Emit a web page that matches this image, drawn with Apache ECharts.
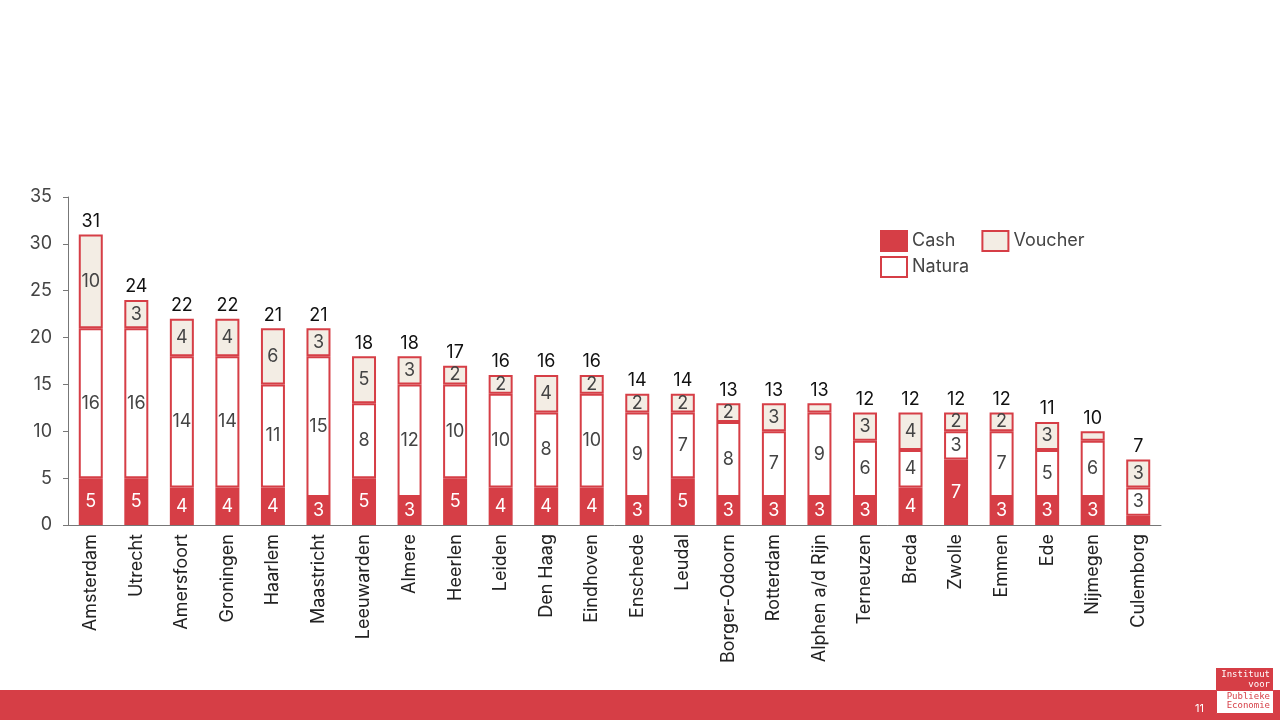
<!DOCTYPE html>
<html>
<head>
<meta charset="utf-8">
<script src="https://cdn.jsdelivr.net/npm/echarts@6/dist/echarts.min.js"></script>
<style>
  html, body { margin: 0; padding: 0; background: #fff; }
  #chart { width: 1280px; height: 720px; }
</style>
</head>
<body>
<div id="chart"></div>
<script>
// gemeenten
var cities = ['Amsterdam', 'Utrecht', 'Amersfoort', 'Groningen', 'Haarlem', 'Maastricht', 'Leeuwarden',
    'Almere', 'Heerlen', 'Leiden', 'Den Haag', 'Eindhoven', 'Enschede', 'Leudal', 'Borger-Odoorn',
    'Rotterdam', 'Alphen a/d Rijn', 'Terneuzen', 'Breda', 'Zwolle', 'Emmen', 'Ede', 'Nijmegen', 'Culemborg'];
var cash    = [5, 5, 4, 4, 4, 3, 5, 3, 5, 4, 4, 4, 3, 5, 3, 3, 3, 3, 4, 7, 3, 3, 3, 1];
var natura  = [16, 16, 14, 14, 11, 15, 8, 12, 10, 10, 8, 10, 9, 7, 8, 7, 9, 6, 4, 3, 7, 5, 6, 3];
var voucher = [10, 3, 4, 4, 6, 3, 5, 3, 2, 2, 4, 2, 2, 2, 2, 3, 1, 3, 4, 2, 2, 3, 1, 3];
var totals  = [31, 24, 22, 22, 21, 21, 18, 18, 17, 16, 16, 16, 14, 14, 13, 13, 13, 12, 12, 12, 12, 11, 10, 7];

var red = '#d63e46';
var font = 'Inter, "Noto Sans", sans-serif';
var mono = '"DejaVu Sans Mono", monospace';

function segLabel(color) {
    return {
        show: true,
        color: color,
        fontSize: 18,
        fontFamily: font,
        formatter: function (p) { return p.value >= 1.5 ? p.value : ''; }
    };
}

function logoText(txt, y, color) {
    return { type: 'text', x: 1270, y: y, style: { text: txt, fill: color, fontSize: 9, fontFamily: mono, align: 'right', verticalAlign: 'middle' } };
}

var chart = echarts.init(document.getElementById('chart'));

var legendText = { color: '#444', fontSize: 18, fontFamily: font };

var option = {
    animation: false,
    grid: { left: 68, right: 119, top: 197, bottom: 195 },
    legend: [{
        left: 880, top: 230, padding: 0, icon: 'rect', itemWidth: 26, itemHeight: 20, itemGap: 26,
        textStyle: legendText,
        data: ['Cash', 'Voucher']
    }, {
        left: 880, top: 256, padding: 0, icon: 'rect', itemWidth: 26, itemHeight: 20,
        textStyle: legendText,
        data: ['Natura']
    }],
    xAxis: {
        type: 'category',
        data: cities,
        axisLine: { lineStyle: { color: '#777', width: 1 } },
        axisTick: { show: false },
        axisLabel: { rotate: 90, color: '#222', fontSize: 18, fontFamily: font, interval: 0, margin: 9 }
    },
    yAxis: {
        type: 'value',
        min: 0, max: 35, interval: 5,
        splitLine: { show: false },
        axisLine: { show: true, lineStyle: { color: '#777', width: 1 } },
        axisTick: { show: true, length: 5, lineStyle: { color: '#777' } },
        axisLabel: { color: '#444', fontSize: 18, fontFamily: font, margin: 16 }
    },
    series: [{
        name: 'Cash', type: 'bar', stack: 'tot', barWidth: 24,
        data: cash,
        itemStyle: { color: red, borderColor: red, borderWidth: 2 },
        label: segLabel('#fff')
    }, {
        name: 'Natura', type: 'bar', stack: 'tot',
        data: natura,
        itemStyle: { color: '#fff', borderColor: red, borderWidth: 2 },
        label: segLabel('#444')
    }, {
        name: 'Voucher', type: 'bar', stack: 'tot',
        data: voucher,
        itemStyle: { color: '#f3ede4', borderColor: red, borderWidth: 2 },
        label: segLabel('#444')
    }, {
        name: 'Totaal', type: 'bar', stack: 'tot',
        data: totals.map(function () { return 0; }),
        itemStyle: { color: 'transparent' },
        label: {
            show: true, position: 'top', color: '#111', fontSize: 18, fontFamily: font, distance: 4,
            formatter: function (p) { return totals[p.dataIndex]; }
        }
    }],
    graphic: [
        { type: 'rect', left: 0, top: 690, shape: { width: 1280, height: 30 }, style: { fill: red } },
        { type: 'text', left: 1195, top: 703, style: { text: '11', fill: '#fff', fontSize: 11, fontFamily: font } },
        { type: 'rect', left: 1216, top: 668, shape: { width: 57, height: 22 }, style: { fill: red } },
        { type: 'rect', left: 1216, top: 690, shape: { width: 57, height: 23 }, style: { fill: '#fff', stroke: red, lineWidth: 1 } },
        logoText('Instituut', 675, '#fff'),
        logoText('voor', 685, '#fff'),
        logoText('Publieke', 697, red),
        logoText('Economie', 706, red)
    ]
};

chart.setOption(option);
</script>
</body>
</html>
